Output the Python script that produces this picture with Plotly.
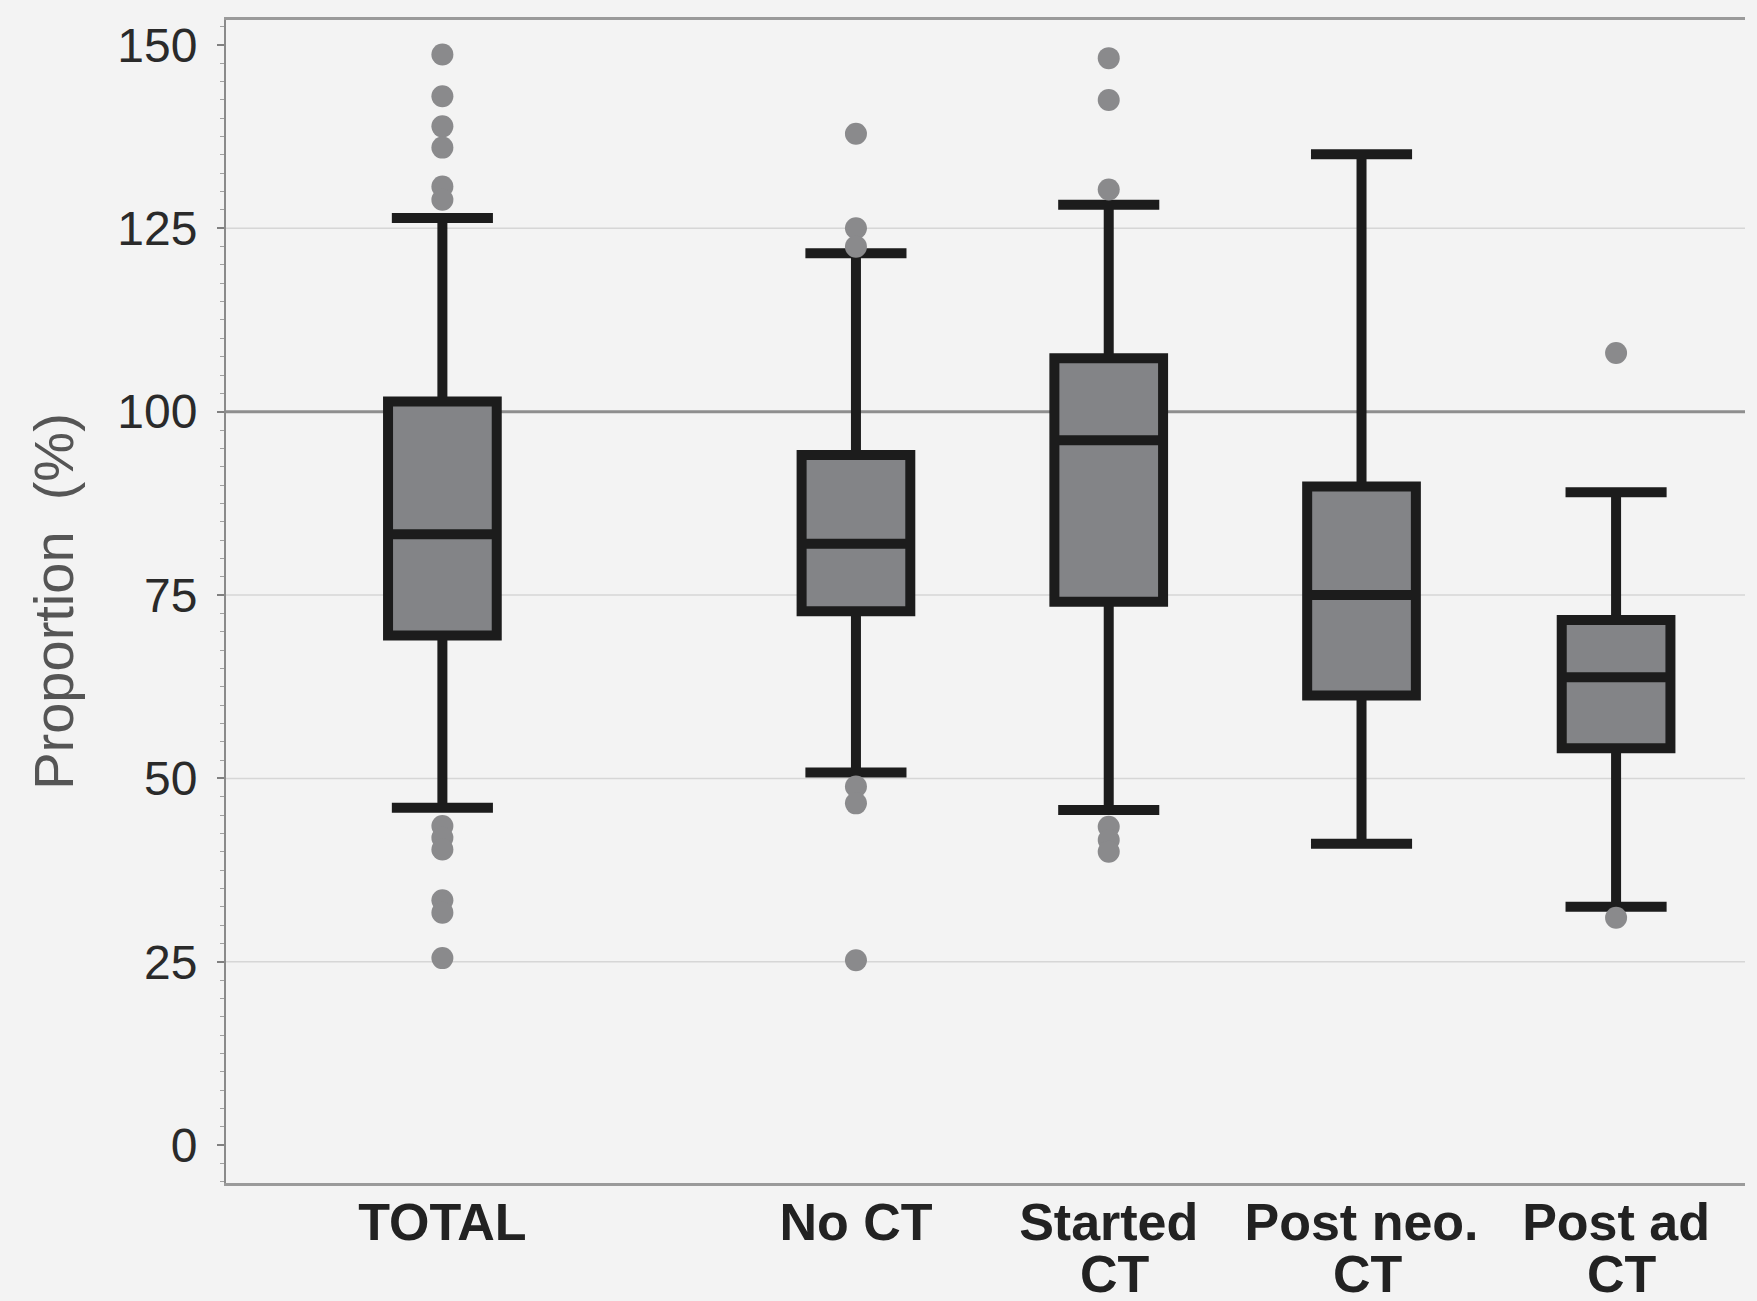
import plotly.graph_objects as go

# ---- data ----
categories = ["TOTAL", "No CT", "Started CT", "Post neo. CT", "Post ad CT"]
label_line1 = ["TOTAL", "No CT", "Started", "Post neo.", "Post ad"]
label_line2 = ["", "", "CT", "CT", "CT"]

lower_whisker = [46.0, 50.8, 45.7, 41.1, 32.5]
q1_vals       = [69.5, 72.8, 74.1, 61.3, 54.1]
median_vals   = [83.3, 82.0, 96.1, 75.0, 63.8]
q3_vals       = [101.4, 94.1, 107.3, 89.8, 71.6]
upper_whisker = [126.4, 121.6, 128.2, 135.1, 89.0]

outliers_total   = [148.7, 143.0, 138.9, 136.0, 130.7, 128.9, 43.5, 41.9, 40.3, 33.4, 31.7, 25.5]
outliers_noct    = [137.9, 125.0, 122.5, 48.9, 46.6, 25.2]
outliers_started = [148.2, 142.5, 130.3, 43.4, 41.6, 40.0]
outliers_postneo = []
outliers_postadj = [108.0, 31.0]
outlier_groups = [outliers_total, outliers_noct, outliers_started, outliers_postneo, outliers_postadj]

grid_levels = [25, 50, 75, 125]
reference_level = 100

# ---- layout positions (TOTAL separated from the others) ----
x_pos = [0.0, 1.636, 2.636, 3.636, 4.643]

fig = go.Figure()

out_x = [x_pos[i] for i, g in enumerate(outlier_groups) for _ in g]
out_y = [v for g in outlier_groups for v in g]
fig.add_trace(go.Scatter(
    x=out_x, y=out_y, mode="markers",
    marker=dict(color="#8a8a8c", size=22, line=dict(width=0)),
    showlegend=False, hoverinfo="y",
))

fig.add_trace(go.Box(
    x=x_pos,
    q1=q1_vals, median=median_vals, q3=q3_vals,
    lowerfence=lower_whisker, upperfence=upper_whisker,
    width=0.43, whiskerwidth=0.93,
    fillcolor="#838487",
    line=dict(color="#1c1c1c", width=10),
    boxpoints=False, showlegend=False,
))

for g in grid_levels:
    fig.add_shape(type="line", xref="paper", x0=0, x1=1, yref="y", y0=g, y1=g,
                  line=dict(color="#d6d6d6", width=1.5), layer="below")
fig.add_shape(type="line", xref="paper", x0=0, x1=1, yref="y",
              y0=reference_level, y1=reference_level,
              line=dict(color="#8e8e8e", width=3), layer="below")

for xp, t in zip(x_pos, label_line2):
    if t:
        fig.add_annotation(x=xp, xref="x", y=0, yref="paper", yanchor="top",
                           yshift=-60, xshift=6, text=t, showarrow=False,
                           font=dict(family="Liberation Sans, Arial", size=52,
                                     color="#222222", weight="bold"))

fig.update_layout(
    width=1757, height=1301,
    margin=dict(l=226, r=12, t=20, b=118),
    paper_bgcolor="#f3f3f3", plot_bgcolor="#f3f3f3",
    showlegend=False,
    xaxis=dict(
        range=[-0.856, 5.153],
        tickvals=x_pos, ticktext=label_line1,
        ticks="", showgrid=False, zeroline=False,
        showline=True, linecolor="#9a9a9a", linewidth=3, mirror=True,
        tickfont=dict(family="Liberation Sans, Arial", size=52, color="#222222", weight="bold"),
        ticklabelstandoff=-8,
    ),
    yaxis=dict(
        range=[-5.16, 153.4],
        tickvals=[0, 25, 50, 75, 100, 125, 150],
        ticks="outside", ticklen=7, tickwidth=1.5, tickcolor="#808080",
        minor=dict(dtick=2.5, ticks="outside", ticklen=4, tickwidth=1, tickcolor="#a0a0a0", showgrid=False),
        showgrid=False, zeroline=False,
        showline=True, linecolor="#8a8a8a", linewidth=2,
        tickfont=dict(family="Liberation Sans, Arial", size=48, color="#2a2a2a"),
        ticklabelstandoff=10,
        title=dict(text="Proportion&nbsp; (%)", standoff=26,
                   font=dict(family="Liberation Sans, Arial", size=56, color="#555555")),
    ),
)

fig.write_html("out.html")
